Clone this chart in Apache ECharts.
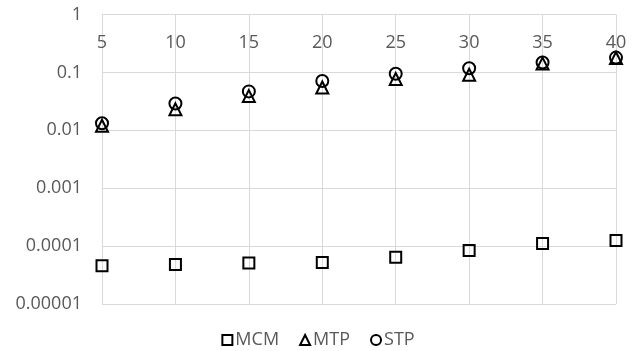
<!DOCTYPE html>
<html>
<head>
<meta charset="utf-8">
<script src="https://cdn.jsdelivr.net/npm/echarts@6/dist/echarts.min.js"></script>
<style>html,body{margin:0;padding:0;background:#fff}#c{width:636px;height:351px}</style>
</head>
<body>
<div id="c"></div>
<script>
var xValues = [5, 10, 15, 20, 25, 30, 35, 40];
var mcm = [4.6e-5, 4.8e-5, 5.1e-5, 5.2e-5, 6.4e-5, 8.4e-5, 1.11e-4, 1.25e-4];
var mtp = [0.012, 0.023, 0.039, 0.055, 0.077, 0.091, 0.142, 0.177];
var stp = [0.0132, 0.029, 0.047, 0.071, 0.095, 0.118, 0.148, 0.18];

function pairs(vals) { return xValues.map(function (x, i) { return [x, vals[i]]; }); }
function fmt(v) {
  var e = Math.round(Math.log10(v));
  return e >= 0 ? String(Math.round(v)) : v.toFixed(-e);
}
var font = 'Open Sans';
var mk = function (sym, size) {
  return {
    type: 'scatter', symbol: sym, symbolSize: size,
    itemStyle: { color: 'rgba(0,0,0,0)', borderColor: '#000', borderWidth: 2, opacity: 1 },
    emphasis: { disabled: true }
  };
};
var s1 = mk('rect', 11); s1.name = 'MCM'; s1.data = pairs(mcm);
var s2 = mk('triangle', 12); s2.name = 'MTP'; s2.data = pairs(mtp);
var s3 = mk('circle', 12); s3.name = 'STP'; s3.data = pairs(stp);

var chart = echarts.init(document.getElementById('c'));
chart.setOption({
  animation: false,
  grid: { left: 102, right: 20, top: 14.5, bottom: 47, containLabel: false },
  xAxis: {
    type: 'value', min: 5, max: 40, interval: 5, position: 'top',
    axisLine: { show: false }, axisTick: { show: false },
    axisLabel: { inside: true, margin: 19, color: '#595959', fontSize: 18, fontFamily: font, verticalAlign: 'top' },
    splitLine: { show: true, lineStyle: { color: '#d9d9d9', width: 1 } }
  },
  yAxis: {
    type: 'log', logBase: 10, min: 0.00001, max: 1,
    axisLine: { show: false }, axisTick: { show: false },
    axisLabel: { margin: 20, color: '#595959', fontSize: 18, fontFamily: font, formatter: fmt },
    splitLine: { show: true, lineStyle: { color: '#d9d9d9', width: 1 } }
  },
  legend: {
    top: 326, left: 'center', itemWidth: 10, itemHeight: 10, itemGap: 20,
    textStyle: { color: '#595959', fontSize: 18, fontFamily: font, padding: [0, 0, 0, -2] },
    data: [
      { name: 'MCM', icon: 'rect' },
      { name: 'MTP', icon: 'triangle' },
      { name: 'STP', icon: 'circle' }
    ]
  },
  series: [s1, s2, s3]
});
</script>
</body>
</html>
